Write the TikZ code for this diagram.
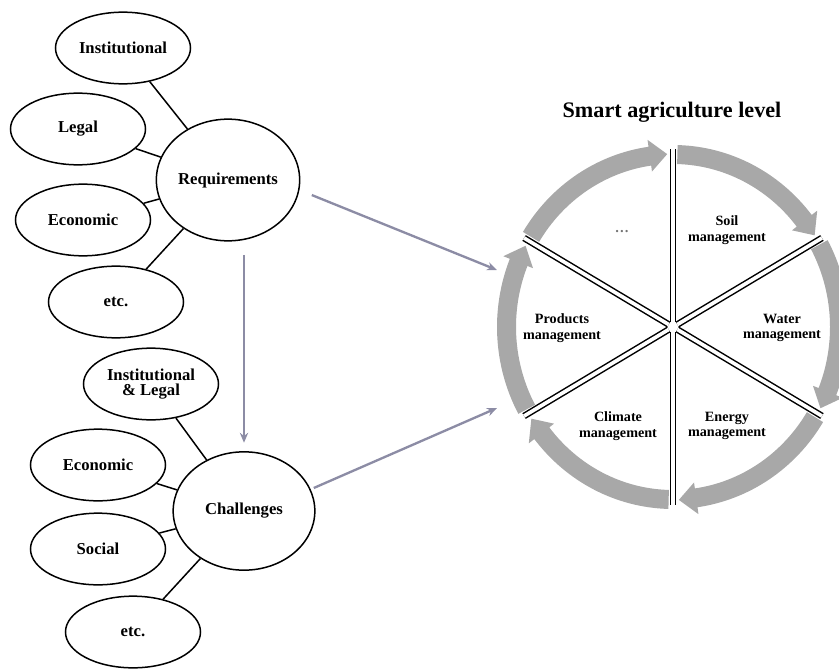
\documentclass[tikz,border=0pt]{standalone}
\usepackage{fontspec}
\setmainfont{Liberation Serif}
\usepackage{tikz}
\usetikzlibrary{shapes.geometric,arrows.meta}
\definecolor{ringgray}{RGB}{168,168,168}
\definecolor{flowblue}{RGB}{140,140,165}

\begin{document}
\begin{tikzpicture}[x=0.6pt, y=0.6pt,
  blob/.style={ellipse, draw, line width=0.9pt, minimum width=81pt, minimum height=43pt, inner sep=0pt, font=\bfseries\fontsize{10}{11}\selectfont, align=center},
  hub/.style={blob, minimum width=86pt, minimum height=73pt},
  tie/.style={line width=0.9pt},
  flow/.style={draw=flowblue, line width=1.4pt, -{Stealth[length=6pt, width=5pt]}},
  divider/.style={line width=0.9pt, double=white, double distance=2.2pt},
  sector/.style={font=\bfseries\fontsize{8.5}{9.5}\selectfont, align=center}]
\useasboundingbox (0,0) rectangle (839,668);
% requirements side
\node[hub] (req) at (228,488) {Requirements};
\node[blob] (inst1) at (123,620) {Institutional};
\node[blob] (legal1) at (78,539) {Legal};
\node[blob] (econ1) at (83,448) {Economic};
\node[blob] (etc1) at (116,366) {etc.};
\draw[tie] (inst1) -- (req);
\draw[tie] (legal1) -- (req);
\draw[tie] (econ1) -- (req);
\draw[tie] (etc1) -- (req);
% challenges side
\node[hub, minimum height=71pt, minimum width=85pt] (chal) at (244,157) {Challenges};
\node[blob] (instlegal) at (151,284) {Institutional\\[-2pt] \& Legal};
\node[blob] (econ2) at (98,203) {Economic};
\node[blob] (social) at (98,119) {Social};
\node[blob] (etc2) at (133,36) {etc.};
\draw[tie] (instlegal) -- (chal);
\draw[tie] (econ2) -- (chal);
\draw[tie] (social) -- (chal);
\draw[tie] (etc2) -- (chal);
% level wheel
\coordinate (ring) at (673,341);
\coordinate (ringin1) at (497,398);
\coordinate (ringin2) at (497,260);
\node[font=\bfseries\fontsize{13.3}{15}\selectfont] (title) at (672,556) {Smart agriculture level};
\begin{scope}[shift={(ring)}]
\foreach \s in {150,90,30,-30,-90,-150}{
  \pgfmathsetmacro\ta{\s-1.5}
  \pgfmathsetmacro\hb{\s-52}
  \pgfmathsetmacro\tp{\s-58}
  \fill[ringgray] (\ta:176 and 182) arc[start angle=\ta, end angle=\hb, x radius=176, y radius=182]
    -- (\hb:183 and 189) -- (\tp:167 and 173) -- (\hb:151 and 157) -- (\hb:157 and 163)
    arc[start angle=\hb, end angle=\ta, x radius=157, y radius=163] -- cycle;
}
\foreach \a in {90,30,-30,-90,-150,150}
  \draw[divider] (\a:5) -- (\a:172 and 178);
\end{scope}
\node[sector, text=black!55] (dots) at (622,436) {\ldots};
\node[sector] (soil) at (727,438) {Soil\\management};
\node[sector] (water) at (782,340) {Water\\management};
\node[sector] (energy) at (727,242) {Energy\\management};
\node[sector] (climate) at (618,242) {Climate\\management};
\node[sector] (products) at (562,340) {Products\\management};
% links
\draw[flow, shorten <=8pt, shorten >=5pt] (chal.north |- req.south) -- (chal.north);
\draw[flow, shorten <=8pt] (req.-8) -- (ringin1);
\draw[flow, shorten <=2pt] (chal.18) -- (ringin2);
\end{tikzpicture}
\end{document}
